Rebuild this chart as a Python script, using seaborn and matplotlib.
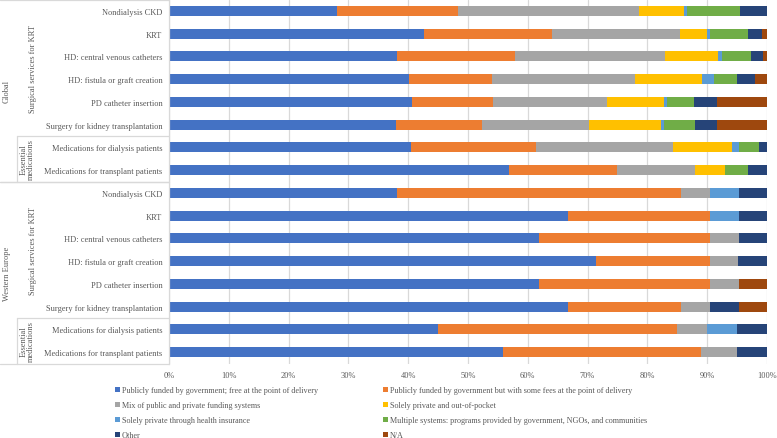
import matplotlib
matplotlib.use("Agg")
import matplotlib.pyplot as plt
import matplotlib.transforms as mtransforms
from matplotlib.lines import Line2D
from matplotlib.patches import Patch
import seaborn as sns
import pandas as pd

# ---------------- data ----------------
funding = [
    "Publicly funded by government; free at the point of delivery",
    "Publicly funded by government but with some fees at the point of delivery",
    "Mix of public and private funding systems",
    "Solely private and out-of-pocket",
    "Solely private through health insurance",
    "Multiple systems: programs provided by government, NGOs, and communities",
    "Other",
    "N/A",
]
colors = ["#4472C4", "#ED7D31", "#A5A5A5", "#FFC000", "#5B9BD5", "#70AD47", "#264478", "#9E480E"]

items = [
    "Nondialysis CKD",
    "KRT",
    "HD: central venous catheters",
    "HD: fistula or graft creation",
    "PD catheter insertion",
    "Surgery for kidney transplantation",
    "Medications for dialysis patients",
    "Medications for transplant patients",
]
regions = ["Global", "Western Europe"]
subgroups = ["Surgical services for KRT", "Essential\nmedications"]
subgroup_sizes = [6, 2]

global_free  = [28.1, 42.7, 38.2, 40.2, 40.7, 37.9, 40.4, 56.9]
global_fees  = [20.3, 21.3, 19.6, 13.8, 13.4, 14.5, 20.9, 18.0]
global_mix   = [30.2, 21.5, 25.2, 23.9, 19.1, 17.8, 22.9, 13.0]
global_oop   = [7.5, 4.4, 8.8, 11.3, 9.5, 12.0, 9.9, 5.0]
global_ins   = [0.5, 0.5, 0.6, 1.9, 0.6, 0.6, 1.3, 0.0]
global_multi = [8.9, 6.4, 5.0, 3.8, 4.5, 5.1, 3.2, 4.0]
global_other = [4.5, 2.4, 1.9, 3.1, 3.8, 3.8, 1.4, 3.1]
global_na    = [0.0, 0.8, 0.7, 2.0, 8.4, 8.3, 0.0, 0.0]

we_free  = [38.1, 66.7, 61.9, 71.4, 61.9, 66.7, 45.0, 55.9]
we_fees  = [47.6, 23.8, 28.6, 19.0, 28.6, 19.0, 40.0, 33.0]
we_mix   = [4.8, 0.0, 4.8, 4.8, 4.8, 4.8, 5.0, 6.0]
we_oop   = [0.0, 0.0, 0.0, 0.0, 0.0, 0.0, 0.0, 0.0]
we_ins   = [4.8, 4.8, 0.0, 0.0, 0.0, 0.0, 5.0, 0.0]
we_multi = [0.0, 0.0, 0.0, 0.0, 0.0, 0.0, 0.0, 0.0]
we_other = [4.8, 4.8, 4.8, 4.8, 0.0, 4.8, 5.0, 5.1]
we_na    = [0.0, 0.0, 0.0, 0.0, 4.8, 4.8, 0.0, 0.0]

xticks = [0, 10, 20, 30, 40, 50, 60, 70, 80, 90, 100]

# ---------------- table ----------------
series = {
    "Global": [global_free, global_fees, global_mix, global_oop, global_ins, global_multi, global_other, global_na],
    "Western Europe": [we_free, we_fees, we_mix, we_oop, we_ins, we_multi, we_other, we_na],
}
records = []
row_keys = []
for reg in regions:
    for i, it in enumerate(items):
        key = f"{reg}|{it}"
        row_keys.append(key)
        for f, vals in zip(funding, series[reg]):
            records.append({"row": key, "funding": f, "value": vals[i]})
df = pd.DataFrame(records)
df["row"] = pd.Categorical(df["row"], categories=row_keys, ordered=True)

# ---------------- plot ----------------
TEXT = "#595959"
FS = 6.0
sns.set_theme(style="white")
plt.rcParams["font.family"] = ["Liberation Serif", "DejaVu Serif"]

W, H = 777, 439
fig = plt.figure(figsize=(W / 100, H / 100), dpi=100)
ax = fig.add_axes([169 / W, 1 - 364.5 / H, (767 - 169) / W, (364.5 - 0.5) / H])

palette = dict(zip(funding, colors))
sns.histplot(
    data=df, y="row", hue="funding", weights="value",
    hue_order=funding[::-1], palette=palette,
    multiple="stack", discrete=True, shrink=0.44,
    linewidth=0, alpha=1, legend=False, ax=ax,
)

n = len(row_keys)
ax.set_ylim(n - 0.5, -0.5)
ax.set_xlim(0, 100)
ax.set_xticks(xticks)
ax.set_xticklabels([f"{t}%" for t in xticks], fontsize=FS, color=TEXT)
ax.set_yticks(range(n))
ax.set_yticklabels([k.split("|")[1] for k in row_keys], fontsize=FS, color=TEXT)
ax.tick_params(axis="y", length=0, pad=4.8)
ax.tick_params(axis="x", length=0, pad=5.5)
ax.set_xlabel("")
ax.set_ylabel("")
ax.grid(axis="x", color="#D9D9D9", linewidth=0.9)
ax.grid(axis="y", visible=False)
ax.set_axisbelow(True)
for s in ["top", "right", "bottom"]:
    ax.spines[s].set_visible(False)
ax.spines["left"].set_color("#D9D9D9")
ax.spines["left"].set_linewidth(0.9)

# ---------------- multi-level category labels ----------------
tr = mtransforms.blended_transform_factory(fig.transFigure, ax.transData)
x_axis = 169 / W
x_sub = 16.7 / W
line_kw = dict(color="#D9D9D9", linewidth=0.9, transform=tr, clip_on=False)

n_items = len(items)
for r, reg in enumerate(regions):
    start = r * n_items
    top = start - 0.5
    bottom = start + n_items - 0.5
    fig.add_artist(Line2D([0, x_axis], [top, top], **line_kw))
    fig.add_artist(Line2D([0, x_axis], [bottom, bottom], **line_kw))
    ax.text(7 / W, (top + bottom) / 2, reg, transform=tr, rotation=90,
            ha="center", va="center", fontsize=FS, color=TEXT)
    s0 = start
    for g, (sg, sz) in enumerate(zip(subgroups, subgroup_sizes)):
        s_top = s0 - 0.5
        s_bot = s0 + sz - 0.5
        if g > 0:
            fig.add_artist(Line2D([x_sub, x_axis], [s_top, s_top], **line_kw))
            fig.add_artist(Line2D([x_sub, x_sub], [s_top, s_bot], **line_kw))
        xpos = 33 / W if g == 0 else 27.5 / W
        ax.text(xpos, (s_top + s_bot) / 2, sg, transform=tr, rotation=90,
                ha="center", va="center", fontsize=FS, color=TEXT,
                linespacing=0.95, multialignment="center")
        s0 += sz

# ---------------- legend ----------------
handles = [Patch(facecolor=c, edgecolor="none") for c in colors]
order = [0, 2, 4, 6, 1, 3, 5, 7]
leg = fig.legend(
    [handles[i] for i in order], [funding[i] for i in order],
    ncol=2, loc="upper left", bbox_to_anchor=(115 / W, 1 - 387.5 / H),
    frameon=False, fontsize=5.9, handlelength=0.55, handleheight=0.55,
    handletextpad=0.3, columnspacing=7.95, labelspacing=0.85,
    borderaxespad=0, borderpad=0,
)
for t in leg.get_texts():
    t.set_color(TEXT)

fig.savefig("out.png", dpi=100)
